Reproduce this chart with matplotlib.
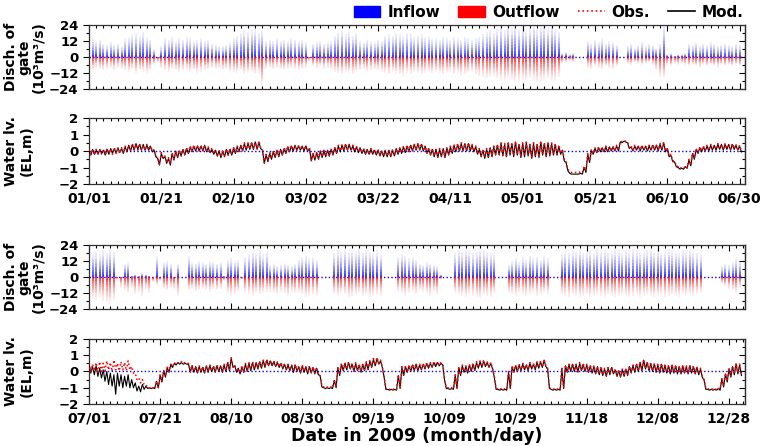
import numpy as np
import matplotlib
matplotlib.use('Agg')
import matplotlib.pyplot as plt
from matplotlib.collections import LineCollection
from matplotlib.patches import Patch
from matplotlib.lines import Line2D
from matplotlib.ticker import MultipleLocator

# ---------------- data (daily values) ----------------
# Jan 01 - Jun 30 : day index 0..180
ticks1 = ['01/01', '01/21', '02/10', '03/02', '03/22', '04/11', '05/01', '05/21', '06/10', '06/30']
# Jul 01 - Dec 31 : day index 0..183
ticks2 = ['07/01', '07/21', '08/10', '08/30', '09/19', '10/09', '10/29', '11/18', '12/08', '12/28']

# daily peak discharge of gate (10^3 m3/s)
inflow1 = [13, 14, 12, 13, 10, 9, 11, 9, 10, 8,
           14, 15, 17, 18, 16, 19, 15, 13, 6, 0,
           8, 14, 13, 15, 12, 14, 13, 15, 14, 12,
           13, 14, 12, 13, 10, 9, 8, 8, 9, 11,
           14, 16, 18, 20, 19, 20, 21, 18, 20, 12,
           13, 12, 14, 12, 13, 12, 14, 13, 12, 13,
           11, 0, 10, 11, 12, 10, 11, 12, 16, 18,
           20, 17, 19, 16, 18, 12, 11, 13, 12, 11,
           13, 12, 16, 17, 16, 18, 17, 16, 18, 17,
           15, 16, 17, 15, 16, 14, 14, 13, 15, 14,
           13, 15, 14, 13, 15, 14, 13, 14, 15, 17,
           19, 20, 18, 21, 23, 20, 24, 22, 24, 21,
           23, 20, 22, 24, 21, 23, 24, 22, 24, 21,
           19, 3, 4, 2, 3, 0, 0, 0, 12, 10,
           13, 11, 14, 10, 12, 11, 9, 0, 0, 8,
           10, 7, 9, 11, 8, 10, 9, 7, 10, 24,
           2, 3, 1, 2, 2, 3, 10, 9, 11, 8,
           10, 9, 11, 10, 8, 9, 10, 9, 8, 10,
           9]
outflow1 = [9, 10, 8, 9, 10, 9, 8, 10, 8, 9,
            10, 11, 9, 12, 10, 11, 12, 10, 6, 4,
            8, 10, 11, 9, 10, 11, 10, 9, 11, 10,
            12, 11, 10, 9, 8, 9, 8, 10, 9, 11,
            11, 12, 10, 13, 12, 11, 13, 12, 22, 9,
            8, 9, 8, 9, 10, 9, 8, 9, 10, 9,
            8, 3, 7, 8, 7, 9, 8, 9, 11, 12,
            13, 11, 12, 13, 11, 10, 9, 11, 10, 9,
            10, 11, 12, 13, 11, 12, 13, 14, 12, 13,
            11, 12, 13, 12, 11, 12, 11, 12, 13, 12,
            11, 13, 12, 14, 13, 12, 11, 13, 14, 15,
            16, 15, 14, 16, 17, 18, 16, 17, 19, 18,
            17, 18, 16, 17, 19, 18, 17, 16, 18, 17,
            15, 5, 4, 3, 4, 0, 0, 0, 8, 9,
            7, 8, 9, 7, 8, 9, 7, 1, 0, 5,
            6, 4, 5, 6, 5, 4, 6, 10, 15, 16,
            6, 7, 5, 6, 5, 6, 7, 6, 7, 8,
            6, 7, 6, 7, 8, 6, 7, 6, 7, 6,
            7]
inflow2 = [17, 18, 19, 17, 20, 18, 21, 19, 0, 0,
           10, 11, 1, 2, 1, 3, 2, 1, 0, 16,
           0, 11, 12, 10, 0, 10, 0, 0, 16, 11,
           10, 12, 11, 10, 12, 11, 10, 11, 1, 13,
           14, 12, 13, 0, 15, 17, 19, 18, 20, 17,
           19, 9, 10, 8, 9, 10, 9, 8, 10, 13,
           15, 16, 14, 15, 13, 0, 0, 0, 0, 18,
           20, 19, 21, 18, 20, 19, 21, 18, 20, 19,
           18, 20, 17, 0, 0, 0, 0, 15, 17, 16,
           14, 15, 13, 10, 9, 11, 10, 9, 8, 2,
           0, 0, 0, 18, 20, 19, 21, 20, 18, 19,
           21, 20, 19, 18, 17, 0, 0, 0, 9, 12,
           14, 11, 15, 13, 16, 14, 15, 13, 16, 14,
           0, 0, 0, 17, 19, 18, 20, 19, 21, 18,
           19, 20, 18, 21, 19, 20, 18, 19, 21, 20,
           18, 20, 19, 21, 20, 18, 19, 20, 21, 19,
           20, 18, 19, 21, 20, 19, 18, 20, 19, 21,
           19, 18, 17, 0, 0, 0, 0, 0, 8, 10,
           9, 11, 14, 12]
outflow2 = [14, 16, 17, 15, 18, 19, 20, 17, 2, 8,
            10, 12, 8, 13, 11, 14, 9, 12, 4, 6,
            3, 9, 10, 8, 9, 14, 0, 0, 10, 9,
            11, 10, 9, 10, 11, 9, 10, 9, 3, 12,
            14, 13, 11, 2, 12, 13, 14, 12, 13, 12,
            11, 11, 12, 13, 11, 12, 14, 11, 12, 12,
            13, 15, 14, 13, 14, 0, 0, 0, 0, 13,
            14, 12, 13, 15, 14, 13, 12, 14, 13, 15,
            14, 13, 14, 0, 0, 0, 0, 11, 12, 14,
            12, 11, 13, 10, 11, 12, 14, 11, 13, 2,
            0, 0, 0, 12, 13, 14, 15, 13, 14, 15,
            16, 13, 14, 15, 12, 0, 0, 0, 12, 13,
            14, 12, 13, 14, 13, 12, 14, 13, 12, 13,
            0, 0, 0, 13, 14, 15, 13, 14, 15, 14,
            13, 15, 14, 13, 14, 15, 13, 14, 15, 14,
            13, 14, 15, 14, 13, 15, 14, 13, 14, 15,
            14, 13, 15, 14, 13, 14, 15, 13, 14, 13,
            14, 13, 12, 0, 0, 0, 0, 0, 5, 7,
            9, 10, 12, 8]

# daily high / low water level (EL, m)
obs1_hi = [0.1, 0.05, 0.1, 0.05, 0.1, 0.15, 0.1, 0.2, 0.15, 0.2,
           0.3, 0.35, 0.45, 0.4, 0.45, 0.35, 0.4, 0.3, 0.1, -0.4,
           -0.1, -0.3, -0.4, -0.1, 0.0, 0.05, 0.1, 0.2, 0.3, 0.35,
           0.3, 0.35, 0.3, 0.25, 0.15, 0.05, 0.0, 0.05, 0.1, 0.15,
           0.2, 0.3, 0.35, 0.5, 0.45, 0.55, 0.5, 0.6, 0.1, -0.2,
           -0.1, 0.0, 0.05, 0.1, 0.2, 0.3, 0.35, 0.3, 0.35, 0.3,
           0.35, 0.2, -0.1, -0.05, 0.0, 0.05, 0.0, 0.1, 0.2, 0.35,
           0.4, 0.45, 0.4, 0.35, 0.3, 0.2, 0.15, 0.1, 0.15, 0.1,
           0.05, 0.0, 0.05, 0.0, 0.1, 0.15, 0.2, 0.3, 0.35, 0.4,
           0.45, 0.5, 0.45, 0.3, 0.2, 0.15, 0.1, 0.15, 0.1, 0.2,
           0.3, 0.4, 0.45, 0.5, 0.45, 0.5, 0.4, 0.3, 0.15, 0.1,
           0.15, 0.2, 0.3, 0.4, 0.5, 0.45, 0.55, 0.5, 0.6, 0.45,
           0.5, 0.55, 0.4, 0.5, 0.45, 0.6, 0.5, 0.55, 0.5, 0.45,
           0.35, 0.1, -0.6, -1.25, -1.3, -1.3, -1.25, -0.9, -0.1, 0.1,
           0.2, 0.25, 0.2, 0.3, 0.25, 0.3, 0.35, 0.6, 0.6, 0.55,
           0.3, 0.35, 0.3, 0.35, 0.3, 0.35, 0.4, 0.35, 0.45, 0.55,
           0.2, -0.2, -0.6, -0.95, -1.0, -0.9, -0.5, -0.1, 0.15, 0.25,
           0.3, 0.35, 0.4, 0.35, 0.45, 0.4, 0.45, 0.4, 0.45, 0.4,
           0.35]
obs1_lo = [-0.2, -0.25, -0.15, -0.2, -0.2, -0.15, -0.2, -0.1, -0.15, -0.1,
           0.0, 0.05, 0.1, 0.05, 0.1, 0.05, 0.1, 0.0, -0.3, -0.8,
           -0.4, -0.7, -0.8, -0.5, -0.35, -0.3, -0.2, -0.1, 0.0, 0.05,
           0.0, 0.05, -0.05, -0.05, -0.15, -0.3, -0.35, -0.3, -0.25, -0.2,
           -0.1, 0.0, 0.05, 0.1, 0.1, 0.15, 0.1, 0.2, -0.7, -0.6,
           -0.45, -0.35, -0.3, -0.2, -0.1, 0.0, 0.05, 0.05, 0.1, 0.05,
           0.05, -0.55, -0.5, -0.45, -0.35, -0.3, -0.3, -0.2, -0.1, 0.0,
           0.05, 0.1, 0.05, 0.0, -0.05, -0.1, -0.15, -0.2, -0.15, -0.2,
           -0.25, -0.3, -0.3, -0.35, -0.25, -0.15, -0.1, -0.05, 0.0, 0.05,
           0.05, 0.1, 0.05, -0.1, -0.2, -0.3, -0.35, -0.3, -0.4, -0.2,
           -0.1, 0.0, 0.05, 0.05, 0.0, 0.05, 0.0, -0.15, -0.3, -0.4,
           -0.35, -0.3, -0.2, -0.2, -0.25, -0.3, -0.2, -0.3, -0.2, -0.35,
           -0.3, -0.25, -0.4, -0.3, -0.35, -0.2, -0.3, -0.25, -0.2, -0.2,
           -0.15, -0.5, -1.1, -1.3, -1.3, -1.3, -1.3, -1.2, -0.6, -0.15,
           -0.05, 0.0, -0.05, 0.0, 0.0, 0.05, 0.05, 0.55, 0.6, 0.2,
           0.05, 0.1, 0.05, 0.1, 0.05, 0.1, 0.1, 0.05, 0.1, 0.0,
           -0.3, -0.6, -0.9, -1.05, -1.05, -1.0, -0.85, -0.45, -0.1, 0.0,
           0.05, 0.05, 0.1, 0.1, 0.15, 0.1, 0.15, 0.1, 0.15, 0.1,
           0.0]
mod1_hi = [0.05, 0.1, 0.05, 0.1, 0.05, 0.1, 0.15, 0.15, 0.2, 0.15,
           0.25, 0.35, 0.4, 0.45, 0.4, 0.4, 0.35, 0.3, 0.05, -0.45,
           -0.15, -0.35, -0.45, -0.15, 0.0, 0.0, 0.1, 0.15, 0.25, 0.3,
           0.3, 0.3, 0.35, 0.2, 0.1, 0.05, 0.0, 0.0, 0.1, 0.1,
           0.2, 0.25, 0.35, 0.45, 0.5, 0.5, 0.55, 0.55, 0.05, -0.25,
           -0.15, -0.05, 0.05, 0.1, 0.15, 0.25, 0.3, 0.35, 0.3, 0.3,
           0.3, 0.15, -0.15, -0.1, 0.0, 0.0, 0.05, 0.1, 0.2, 0.3,
           0.35, 0.4, 0.4, 0.3, 0.25, 0.2, 0.1, 0.1, 0.1, 0.05,
           0.05, 0.0, 0.0, 0.05, 0.05, 0.15, 0.2, 0.25, 0.3, 0.35,
           0.4, 0.45, 0.4, 0.3, 0.15, 0.1, 0.1, 0.1, 0.15, 0.2,
           0.25, 0.35, 0.4, 0.45, 0.45, 0.45, 0.35, 0.25, 0.1, 0.05,
           0.1, 0.2, 0.25, 0.35, 0.45, 0.4, 0.5, 0.45, 0.55, 0.4,
           0.45, 0.5, 0.35, 0.45, 0.4, 0.55, 0.45, 0.5, 0.45, 0.4,
           0.3, 0.05, -0.7, -1.35, -1.4, -1.4, -1.35, -1.0, -0.2, 0.05,
           0.15, 0.2, 0.2, 0.25, 0.25, 0.25, 0.3, 0.55, 0.6, 0.5,
           0.25, 0.3, 0.3, 0.3, 0.3, 0.3, 0.35, 0.35, 0.4, 0.5,
           0.15, -0.25, -0.65, -1.0, -1.05, -0.95, -0.55, -0.15, 0.1, 0.2,
           0.25, 0.3, 0.35, 0.35, 0.4, 0.4, 0.4, 0.4, 0.4, 0.35,
           0.3]
mod1_lo = [-0.25, -0.2, -0.2, -0.15, -0.25, -0.2, -0.15, -0.15, -0.1, -0.15,
           -0.05, 0.0, 0.05, 0.1, 0.05, 0.05, 0.05, -0.05, -0.35, -0.85,
           -0.45, -0.75, -0.85, -0.55, -0.4, -0.3, -0.25, -0.15, -0.05, 0.0,
           0.0, 0.0, -0.05, -0.1, -0.2, -0.3, -0.4, -0.35, -0.25, -0.25,
           -0.15, -0.05, 0.0, 0.05, 0.1, 0.1, 0.1, 0.15, -0.75, -0.65,
           -0.5, -0.4, -0.35, -0.25, -0.15, -0.05, 0.0, 0.05, 0.05, 0.0,
           0.0, -0.6, -0.55, -0.5, -0.4, -0.35, -0.3, -0.25, -0.15, -0.05,
           0.0, 0.05, 0.05, -0.05, -0.1, -0.15, -0.2, -0.2, -0.2, -0.25,
           -0.3, -0.35, -0.35, -0.35, -0.3, -0.2, -0.15, -0.1, -0.05, 0.0,
           0.05, 0.05, 0.0, -0.15, -0.25, -0.35, -0.4, -0.35, -0.4, -0.25,
           -0.15, -0.05, 0.0, 0.0, 0.0, 0.0, -0.05, -0.2, -0.35, -0.45,
           -0.4, -0.35, -0.25, -0.25, -0.3, -0.35, -0.25, -0.35, -0.25, -0.4,
           -0.35, -0.3, -0.45, -0.35, -0.4, -0.25, -0.35, -0.3, -0.25, -0.25,
           -0.2, -0.6, -1.2, -1.4, -1.4, -1.4, -1.4, -1.3, -0.7, -0.2,
           -0.1, -0.05, -0.05, -0.05, 0.0, 0.0, 0.0, 0.5, 0.55, 0.15,
           0.0, 0.05, 0.0, 0.05, 0.0, 0.05, 0.05, 0.0, 0.05, -0.05,
           -0.35, -0.65, -0.95, -1.1, -1.1, -1.05, -0.9, -0.5, -0.15, -0.05,
           0.0, 0.0, 0.05, 0.05, 0.1, 0.05, 0.1, 0.05, 0.1, 0.05,
           -0.05]

obs2_hi = [0.5, 0.45, 0.55, 0.6, 0.5, 0.65, 0.55, 0.7, 0.5, 0.6,
           0.55, 0.65, 0.3, -0.1, -0.4, -0.5, -0.8, -1.0, -1.0, -0.6,
           -0.2, 0.1, 0.3, 0.45, 0.55, 0.55, 0.6, 0.55, 0.5, 0.4,
           0.3, 0.35, 0.3, 0.35, 0.4, 0.35, 0.4, 0.35, 0.45, 0.6,
           0.85, 0.4, 0.2, 0.35, 0.5, 0.55, 0.6, 0.55, 0.65, 0.7,
           0.75, 0.7, 0.65, 0.6, 0.55, 0.5, 0.45, 0.4, 0.45, 0.35,
           0.4, 0.3, 0.35, 0.3, 0.25, -0.2, -0.95, -0.95, -0.95, -0.5,
           0.3, 0.5, 0.55, 0.6, 0.5, 0.55, 0.45, 0.5, 0.6, 0.7,
           0.8, 0.85, 0.7, -0.3, -1.05, -1.05, -1.05, -0.2, 0.3, 0.35,
           0.4, 0.45, 0.5, 0.45, 0.5, 0.55, 0.55, 0.6, 0.6, 0.55,
           -0.5, -1.0, -1.0, -0.2, 0.3, 0.4, 0.35, 0.45, 0.5, 0.6,
           0.65, 0.7, 0.6, 0.55, -0.3, -1.05, -1.05, -1.05, 0.0, 0.35,
           0.4, 0.45, 0.5, 0.45, 0.55, 0.5, 0.6, 0.65, 0.75, 0.2,
           -1.05, -1.05, -1.05, 0.2, 0.4, 0.45, 0.5, 0.45, 0.55, 0.5,
           0.45, 0.4, 0.35, 0.3, 0.3, 0.2, 0.25, 0.3, 0.15, 0.1,
           0.15, 0.2, 0.35, 0.4, 0.5, 0.6, 0.75, 0.6, 0.55, 0.5,
           0.45, 0.5, 0.45, 0.4, 0.45, 0.4, 0.35, 0.4, 0.35, 0.4,
           0.35, 0.3, 0.2, -0.5, -1.05, -1.05, -1.05, -1.0, -0.4, -0.1,
           0.2, 0.35, 0.5, 0.45]
obs2_lo = [0.0, 0.05, -0.05, 0.0, 0.05, 0.1, 0.0, 0.1, 0.05, 0.1,
           0.05, 0.1, -0.1, -0.5, -0.7, -0.8, -1.0, -1.05, -1.05, -1.0,
           -0.6, -0.3, 0.0, 0.3, 0.45, 0.5, 0.5, 0.5, 0.0, 0.0,
           -0.05, 0.0, -0.05, 0.0, 0.05, 0.0, 0.05, 0.0, 0.05, 0.1,
           0.3, 0.0, -0.1, 0.0, 0.05, 0.1, 0.15, 0.2, 0.25, 0.3,
           0.4, 0.4, 0.35, 0.3, 0.2, 0.15, 0.1, 0.0, 0.05, -0.05,
           0.0, -0.1, -0.05, -0.1, -0.15, -0.9, -1.0, -1.0, -1.0, -0.95,
           -0.2, 0.1, 0.15, 0.2, 0.05, 0.1, 0.0, 0.1, 0.15, 0.3,
           0.4, 0.5, 0.3, -1.05, -1.1, -1.1, -1.1, -1.0, -0.2, 0.0,
           0.05, 0.1, 0.1, 0.15, 0.2, 0.25, 0.3, 0.35, 0.4, 0.45,
           -1.0, -1.05, -1.05, -1.0, -0.2, 0.0, -0.05, 0.05, 0.1, 0.25,
           0.3, 0.35, 0.3, 0.2, -1.05, -1.1, -1.1, -1.1, -1.0, 0.0,
           0.05, 0.1, 0.15, 0.1, 0.2, 0.15, 0.25, 0.3, 0.35, -1.0,
           -1.1, -1.1, -1.1, -1.0, 0.0, 0.05, 0.05, 0.0, 0.1, 0.05,
           0.0, -0.05, -0.1, -0.15, -0.2, -0.25, -0.15, -0.1, -0.25, -0.3,
           -0.25, -0.2, -0.05, 0.0, 0.05, 0.1, 0.2, 0.1, 0.05, 0.0,
           -0.05, 0.0, -0.05, -0.1, -0.05, -0.1, -0.1, -0.05, -0.1, -0.05,
           -0.1, -0.15, -0.3, -1.05, -1.1, -1.1, -1.1, -1.1, -0.9, -0.6,
           -0.3, -0.15, -0.1, -0.2]
mod2_hi = [0.4, 0.3, 0.35, 0.2, 0.1, 0.0, -0.1, -0.2, -0.1, -0.2,
           -0.3, -0.2, -0.5, -0.7, -0.9, -0.8, -0.9, -1.0, -1.0, -0.6,
           -0.25, 0.05, 0.25, 0.4, 0.5, 0.55, 0.55, 0.5, 0.45, 0.35,
           0.3, 0.3, 0.25, 0.35, 0.35, 0.3, 0.35, 0.35, 0.4, 0.55,
           0.8, 0.35, 0.2, 0.3, 0.45, 0.5, 0.55, 0.55, 0.6, 0.65,
           0.7, 0.65, 0.6, 0.55, 0.5, 0.45, 0.4, 0.4, 0.4, 0.3,
           0.35, 0.3, 0.3, 0.25, 0.2, -0.25, -1.0, -1.0, -1.0, -0.55,
           0.25, 0.45, 0.5, 0.55, 0.45, 0.5, 0.4, 0.45, 0.55, 0.65,
           0.75, 0.8, 0.65, -0.35, -1.1, -1.1, -1.1, -0.25, 0.25, 0.3,
           0.35, 0.4, 0.45, 0.4, 0.45, 0.5, 0.5, 0.55, 0.55, 0.5,
           -0.55, -1.05, -1.05, -0.25, 0.25, 0.35, 0.3, 0.4, 0.45, 0.55,
           0.6, 0.65, 0.55, 0.5, -0.35, -1.1, -1.1, -1.1, -0.05, 0.3,
           0.35, 0.4, 0.45, 0.4, 0.5, 0.45, 0.55, 0.6, 0.7, 0.15,
           -1.1, -1.1, -1.1, 0.15, 0.35, 0.4, 0.45, 0.4, 0.5, 0.45,
           0.4, 0.35, 0.3, 0.3, 0.25, 0.15, 0.2, 0.25, 0.1, 0.05,
           0.1, 0.15, 0.3, 0.35, 0.45, 0.55, 0.7, 0.55, 0.5, 0.45,
           0.4, 0.45, 0.4, 0.35, 0.4, 0.35, 0.3, 0.35, 0.3, 0.35,
           0.3, 0.25, 0.15, -0.55, -1.1, -1.1, -1.1, -1.05, -0.45, -0.15,
           0.15, 0.3, 0.45, 0.4]
mod2_lo = [-0.1, -0.2, -0.3, -0.4, -0.6, -0.8, -0.9, -1.4, -0.9, -1.0,
           -0.9, -1.0, -1.0, -1.2, -1.25, -1.1, -1.05, -1.05, -1.05, -1.0,
           -0.65, -0.35, -0.05, 0.25, 0.4, 0.45, 0.45, 0.45, -0.05, -0.05,
           -0.1, -0.05, -0.1, -0.05, 0.0, -0.05, 0.0, -0.05, 0.0, 0.05,
           0.25, -0.05, -0.15, -0.05, 0.0, 0.05, 0.1, 0.15, 0.2, 0.25,
           0.35, 0.35, 0.3, 0.25, 0.15, 0.1, 0.05, -0.05, 0.0, -0.1,
           -0.05, -0.15, -0.1, -0.15, -0.2, -0.95, -1.05, -1.05, -1.05, -1.0,
           -0.25, 0.05, 0.1, 0.15, 0.0, 0.05, -0.05, 0.05, 0.1, 0.25,
           0.35, 0.45, 0.25, -1.1, -1.15, -1.15, -1.15, -1.05, -0.25, -0.05,
           0.0, 0.05, 0.05, 0.1, 0.15, 0.2, 0.25, 0.3, 0.35, 0.4,
           -1.05, -1.1, -1.1, -1.05, -0.25, -0.05, -0.1, 0.0, 0.05, 0.2,
           0.25, 0.3, 0.25, 0.15, -1.1, -1.15, -1.15, -1.15, -1.05, -0.05,
           0.0, 0.05, 0.1, 0.05, 0.15, 0.1, 0.2, 0.25, 0.3, -1.05,
           -1.15, -1.15, -1.15, -1.05, -0.05, 0.0, 0.0, -0.05, 0.05, 0.0,
           -0.05, -0.1, -0.15, -0.2, -0.25, -0.3, -0.2, -0.15, -0.3, -0.35,
           -0.3, -0.25, -0.1, -0.05, 0.0, 0.05, 0.15, 0.05, 0.0, -0.05,
           -0.1, -0.05, -0.1, -0.15, -0.1, -0.15, -0.15, -0.1, -0.15, -0.1,
           -0.15, -0.2, -0.35, -1.1, -1.15, -1.15, -1.15, -1.15, -0.95, -0.65,
           -0.35, -0.2, -0.15, -0.25]

# ---------------------------------------------------------------------------
plt.rcParams['font.family'] = 'DejaVu Sans'
plt.rcParams['font.weight'] = 'bold'

fig = plt.figure(figsize=(7.64, 4.46), dpi=100)
L, W = 0.1165, 0.8586
ax_q1 = fig.add_axes([L, 0.8004, W, 0.1435])
ax_h1 = fig.add_axes([L, 0.5874, W, 0.148])
ax_q2 = fig.add_axes([L, 0.3072, W, 0.1435])
ax_h2 = fig.add_axes([L, 0.0942, W, 0.1457])


def draw_flow(ax, vals, rgb, sign):
    # spikes fading out towards their tips
    days = np.arange(len(vals))
    v = np.asarray(vals, float) * sign
    n = 10
    for k in range(n):
        segs = [[(d, v[i] * k / n), (d, v[i] * (k + 1) / n)] for i, d in enumerate(days)]
        a = 0.08 + 0.82 * (1 - k / (n - 1)) ** 1.4
        ax.add_collection(LineCollection(segs, colors=[rgb + (a,)], linewidths=1.2))


def draw_level(ax, hi, lo, **kw):
    days = np.arange(len(hi))
    x = np.column_stack([days, days + 0.5]).ravel()
    y = np.column_stack([hi, lo]).ravel()
    ax.plot(x, y, **kw)


def style(ax, ylim, yt, ymin, xmax, labels, ylabel, ylab_x, lsp):
    ax.set_xlim(0, xmax)
    ax.set_ylim(*ylim)
    ax.set_xticks(np.arange(0, 181, 20))
    ax.xaxis.set_minor_locator(MultipleLocator(2))
    ax.set_yticks(yt)
    ax.yaxis.set_minor_locator(MultipleLocator(ymin))
    ax.tick_params(axis='x', which='both', direction='in', top=True, width=0.8,
                   labelsize=10, pad=5.5)
    ax.tick_params(axis='x', which='major', length=4)
    ax.tick_params(axis='x', which='minor', length=2.2)
    ax.tick_params(axis='y', which='both', direction='out', right=False, width=0.8,
                   labelsize=9.5, pad=3)
    ax.tick_params(axis='y', which='major', length=4.5)
    ax.tick_params(axis='y', which='minor', length=2.2)
    # right side: inward ticks, no labels
    sec = ax.secondary_yaxis('right')
    sec.set_yticks(yt)
    sec.yaxis.set_minor_locator(MultipleLocator(ymin))
    sec.tick_params(which='both', direction='in', labelright=False, width=0.8)
    sec.tick_params(which='major', length=4)
    sec.tick_params(which='minor', length=2.2)
    sec.spines['right'].set_linewidth(0.9)
    sec.spines['right'].set_color('#333333')
    if labels is None:
        ax.set_xticklabels([])
    else:
        ax.set_xticklabels(labels)
    for s in ax.spines.values():
        s.set_linewidth(0.9)
        s.set_color('#333333')
    ax.axhline(0, color='blue', ls=':', lw=1.0, zorder=1)
    ax.text(ylab_x, 0.5, ylabel, transform=ax.transAxes, rotation=90, ha='center',
            va='center', multialignment='center', fontsize=10, fontweight='bold',
            linespacing=lsp)


for ax_q, ax_h, inf, out, ohi, olo, mhi, mlo, xmax, labels in [
        (ax_q1, ax_h1, inflow1, outflow1, obs1_hi, obs1_lo, mod1_hi, mod1_lo, 181.5, ticks1),
        (ax_q2, ax_h2, inflow2, outflow2, obs2_hi, obs2_lo, mod2_hi, mod2_lo, 184.5, ticks2)]:
    draw_flow(ax_q, inf, (0.0, 0.0, 1.0), 1)
    draw_flow(ax_q, out, (1.0, 0.0, 0.0), -1)
    style(ax_q, (-24, 24), [24, 12, 0, -12, -24], 6, xmax, None,
          'Disch. of\ngate\n(10³m³/s)', -0.098, 1.0)

    draw_level(ax_h, mhi, mlo, color='black', lw=0.8, zorder=3)
    draw_level(ax_h, ohi, olo, color='red', lw=1.1, ls=':', zorder=4)
    style(ax_h, (-2, 2), [2, 1, 0, -1, -2], 0.5, xmax, labels,
          'Water lv.\n(EL,m)', -0.107, 1.15)

ax_h2.set_xlabel('Date in 2009 (month/day)', fontsize=12.5, fontweight='bold', labelpad=1)

handles = [Patch(color='blue'), Patch(color='red'),
           Line2D([], [], color='red', ls=':', lw=1.2),
           Line2D([], [], color='black', lw=1.2)]
fig.legend(handles, ['Inflow', 'Outflow', 'Obs.', 'Mod.'], loc='upper right',
           bbox_to_anchor=(0.9915, 1.02), ncol=4, frameon=False,
           prop={'weight': 'bold', 'size': 11}, handlelength=1.75,
           handletextpad=0.45, columnspacing=1.2)

fig.savefig('out.png', dpi=100)
